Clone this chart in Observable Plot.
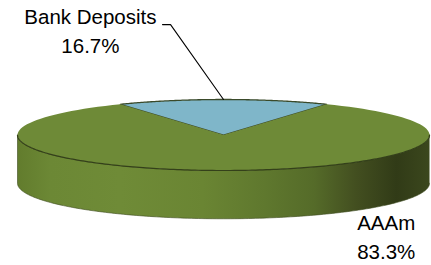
<!DOCTYPE html>
<html>
<head>
<meta charset="utf-8">
<script src="https://cdn.jsdelivr.net/npm/d3@7"></script>
<script src="https://cdn.jsdelivr.net/npm/@observablehq/plot@0.6"></script>
<style>
  html, body { margin: 0; padding: 0; background: #fff; }
  #chart svg { display: block; }
</style>
</head>
<body>
<div id="chart"></div>
<script>
// ---- data ----
const categories = ["Bank Deposits", "AAAm"];
const percents = [16.7, 83.3];
const percentLabels = ["16.7%", "83.3%"];
const colors = ["#7fb6c9", "#6e8a37"];

// ---- layout (not data) ----
const W = 431, H = 265;
const depth = 1.36;           // disk thickness in y units (top ellipse ry = 1)
const labelPos = [            // label centers in chart units
  {x: -0.646, y: -3.30},
  {x: 0.79, y: 2.50}
];
const lineGap = 0.80;         // line spacing in y units

// build slices: first slice centered at the top, going clockwise
const total = d3.sum(percents);
let acc = -percents[0] / 2;
const slices = categories.map((c, i) => {
  const a0 = acc / total * 2 * Math.PI;
  acc += percents[i];
  const a1 = acc / total * 2 * Math.PI;
  return {name: c, a0, a1, color: colors[i], i};
});
const pt = (a, dy = 0) => ({x: Math.sin(a), y: -Math.cos(a) + dy});

const slicePts = [];
slices.forEach(s => {
  const n = 120;
  const pts = [{x: 0, y: 0, k: s.i}];
  for (let j = 0; j <= n; j++) {
    const a = s.a0 + (s.a1 - s.a0) * j / n;
    pts.push({...pt(a), k: s.i});
  }
  pts.push({x: 0, y: 0, k: s.i});
  slicePts.push(pts);
});

// front side (visible half: angles 90..270 deg)
const side = [];
for (let j = 0; j <= 180; j++) {
  const a = Math.PI / 2 + Math.PI * j / 180;
  side.push(pt(a));
}
for (let j = 180; j >= 0; j--) {
  const a = Math.PI / 2 + Math.PI * j / 180;
  side.push(pt(a, depth));
}
const frontEdge = [];
for (let j = 0; j <= 180; j++) frontEdge.push(pt(Math.PI / 2 + Math.PI * j / 180));

// leader line for first slice
const midA = (slices[0].a0 + slices[0].a1) / 2;
const leader = [pt(midA), {x: -0.257, y: -3.11}, {x: -0.296, y: -3.11}];

const labels = [];
slices.forEach((s, i) => {
  labels.push({x: labelPos[i].x, y: labelPos[i].y, t: categories[i]});
  labels.push({x: labelPos[i].x, y: labelPos[i].y + lineGap, t: percentLabels[i]});
});

const defs = () => {
  const d = d3.create("svg:defs");
  const g = d.append("linearGradient").attr("id", "sideGrad").attr("x1", 0).attr("x2", 1).attr("y1", 0).attr("y2", 0);
  [[0, "#627c2d"], [0.08, "#6c8835"], [0.25, "#6f8b37"], [0.45, "#6a8533"], [0.6, "#5f782e"],
   [0.72, "#556b29"], [0.82, "#434f20"], [0.92, "#313b17"], [1, "#3b471d"]]
    .forEach(([o, c]) => g.append("stop").attr("offset", o).attr("stop-color", c));
  return d.node();
};

const chart = Plot.plot({
  width: W, height: H,
  margin: 0,
  x: {domain: [-1, 1], range: [17, 429], axis: null},
  y: {domain: [-1, 1], range: [99, 170], axis: null},
  style: {background: "#fff", fontFamily: "'Liberation Sans', Arial, sans-serif"},
  marks: [
    defs,
    Plot.line(side, {x: "x", y: "y", fill: "url(#sideGrad)", stroke: "#3d4a1e", strokeWidth: 0.6, curve: "linear"}),
    ...slicePts.map((pts, i) =>
      Plot.line(pts, {x: "x", y: "y", fill: slices[i].color, stroke: i === 0 ? "#3a4a2a" : "none", strokeWidth: 1.3})),
    Plot.line(frontEdge, {x: "x", y: "y", stroke: "#34401a", strokeWidth: 1.2}),
    Plot.line(leader, {x: "x", y: "y", stroke: "#000", strokeWidth: 1.1}),
    Plot.text(labels, {x: "x", y: "y", text: "t", fontSize: 20.5, fill: "#000", textAnchor: "middle"})
  ]
});
document.getElementById("chart").appendChild(chart);
</script>
</body>
</html>
